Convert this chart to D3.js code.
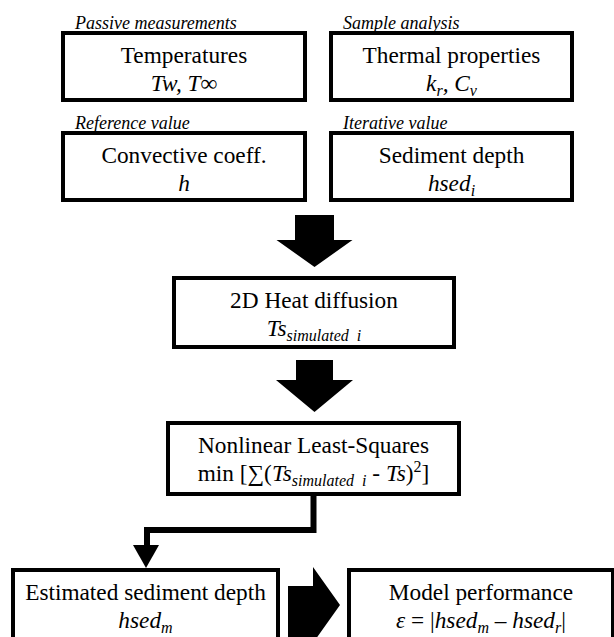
<!DOCTYPE html>
<html>
<head>
<meta charset="utf-8">
<script src="https://cdn.jsdelivr.net/npm/d3@7"></script>
<style>
  body { margin: 0; background: #fff; }
  svg text { font-family: "Liberation Serif"; }
</style>
</head>
<body>
<div id="chart"></div>
<script>
// Flowchart content
const boxIds = ["temp", "thermal", "conv", "depth", "diffusion", "lsq", "estimated", "performance"];
const boxTitles = [
  "Temperatures", "Thermal properties", "Convective coeff.", "Sediment depth",
  "2D Heat diffusion", "Nonlinear Least-Squares", "Estimated sediment depth", "Model performance"
];
// second line of each box, as [text, style] runs: i = italic, r = roman, isub = italic subscript, sup
const boxSymbols = [
  [["Tw, T∞", "i"]],
  [["k", "i"], ["r", "isub"], [", C", "i"], ["v", "isub"]],
  [["h", "i"]],
  [["hsed", "i"], ["i", "isub"]],
  [["Ts", "i"], ["simulated  i", "isub"]],
  [["min [∑(", "r"], ["Ts", "i"], ["simulated  i", "isub"], [" - ", "r"], ["Ts", "i"], [")", "r"], ["2", "sup"], ["]", "r"]],
  [["hsed", "i"], ["m", "isub"]],
  [["ε", "i"], [" = |", "r"], ["hsed", "i"], ["m", "isub"], [" – ", "r"], ["hsed", "i"], ["r", "isub"], ["|", "r"]]
];
const boxCaptions = ["Passive measurements", "Sample analysis", "Reference value", "Iterative value", "", "", "", ""];

// Layout (pixels)
const layout = {
  temp:        { x0: 63,  x1: 305, y0: 33,  y1: 100 },
  thermal:     { x0: 331, x1: 572, y0: 33,  y1: 100 },
  conv:        { x0: 63,  x1: 305, y0: 133, y1: 200 },
  depth:       { x0: 331, x1: 572, y0: 133, y1: 200 },
  diffusion:   { x0: 174, x1: 454, y0: 278, y1: 347 },
  lsq:         { x0: 168, x1: 459, y0: 423, y1: 494 },
  estimated:   { x0: 13,  x1: 278, y0: 570, y1: 645 },
  performance: { x0: 349, x1: 613, y0: 570, y1: 645 }
};

const W = 614, H = 637;
const FONT = '"Liberation Serif"';
const titleSize = 23.3, symbolSize = 23.3, subSize = 16, captionSize = 18;

const svg = d3.select("#chart").append("svg")
  .attr("width", W).attr("height", H);

const boxes = boxIds.map((id, i) => ({
  id, title: boxTitles[i], symbol: boxSymbols[i], caption: boxCaptions[i], ...layout[id]
}));

// Box frames
svg.selectAll("rect.box")
  .data(boxes)
  .join("rect")
  .attr("class", "box")
  .attr("x", d => d.x0).attr("y", d => d.y0)
  .attr("width", d => d.x1 - d.x0).attr("height", d => d.y1 - d.y0)
  .attr("fill", "#fff").attr("stroke", "#000").attr("stroke-width", 4);

// Captions above the top boxes
svg.selectAll("text.caption")
  .data(boxes.filter(d => d.caption))
  .join("text")
  .attr("class", "caption")
  .attr("x", d => d.x0 + 12).attr("y", d => d.y0 - 4)
  .style("font-family", FONT)
  .attr("font-size", captionSize).attr("font-style", "italic")
  .text(d => d.caption);

// Titles (first line)
svg.selectAll("text.title")
  .data(boxes)
  .join("text")
  .attr("class", "title")
  .attr("x", d => (d.x0 + d.x1) / 2)
  .attr("y", d => d.y0 + 30)
  .attr("text-anchor", "middle")
  .style("font-family", FONT)
  .attr("font-size", titleSize)
  .text(d => d.title);

// Symbol line with sub/superscripts
svg.selectAll("text.symbol")
  .data(boxes)
  .join("text")
  .attr("class", "symbol")
  .attr("x", d => (d.x0 + d.x1) / 2)
  .attr("y", d => d.y0 + 58)
  .attr("text-anchor", "middle")
  .style("font-family", FONT)
  .attr("font-size", symbolSize)
  .style("white-space", "pre")
  .each(function (d) {
    const t = d3.select(this);
    let shift = 0;
    d.symbol.forEach(([txt, style]) => {
      let target = 0, size = symbolSize;
      if (style === "isub") { target = 5; size = subSize; }
      if (style === "sup") { target = -9; size = subSize; }
      t.append("tspan")
        .attr("dy", target - shift)
        .attr("font-size", size)
        .attr("font-style", style === "r" || style === "sup" ? "normal" : "italic")
        .text(txt);
      shift = target;
    });
  });

// Block arrows (down, down, right)
function downArrow(cx, yTop, yHead, yTip, shaftHalf, headHalf) {
  return [[cx - shaftHalf, yTop], [cx + shaftHalf, yTop], [cx + shaftHalf, yHead], [cx + headHalf, yHead],
          [cx, yTip], [cx - headHalf, yHead], [cx - shaftHalf, yHead]];
}
const blockArrows = [
  downArrow(314.5, 215, 240, 267, 19.5, 38),
  downArrow(314.5, 360, 380, 412, 18.5, 38.5),
  [[288, 586], [313, 586], [313, 567], [340, 605], [313, 643], [313, 640], [288, 640]]
];
svg.selectAll("path.block")
  .data(blockArrows)
  .join("path")
  .attr("class", "block")
  .attr("d", d => d3.line()(d) + "Z")
  .attr("fill", "#000");

// Elbow connector from least-squares box to estimated depth
const elbow = [[313.5, 494], [313.5, 530], [147, 530], [147, 547]];
svg.append("path")
  .attr("d", d3.line()(elbow))
  .attr("fill", "none").attr("stroke", "#000").attr("stroke-width", 6)
  .attr("stroke-linejoin", "miter");
svg.append("path")
  .attr("d", d3.line()([[133, 545], [159, 545], [146, 568]]) + "Z")
  .attr("fill", "#000");
</script>
</body>
</html>
